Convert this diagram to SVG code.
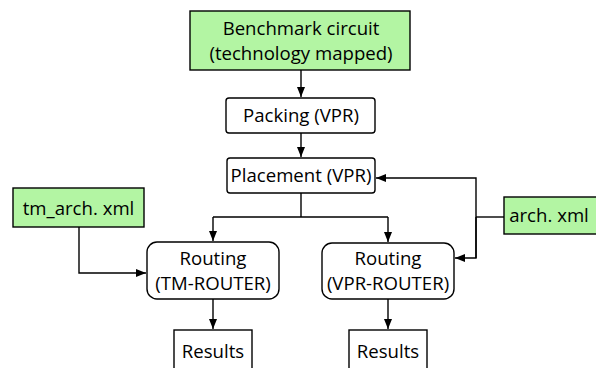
<svg xmlns="http://www.w3.org/2000/svg" width="596" height="368" viewBox="0 0 596 368">
<defs>
<marker id="ah" viewBox="0 0 10 8" refX="10" refY="4" markerWidth="10" markerHeight="8" markerUnits="userSpaceOnUse" orient="auto">
<path d="M0,0 L10,4 L0,8 Z" fill="#000"/>
</marker>
<style>
.box{fill:#fff;stroke:#000;stroke-width:1.4}
.in{fill:#b3f5a3;stroke:#000;stroke-width:1.4}
.t{font-family:"Open Sans","Liberation Sans",sans-serif;font-size:18.6px;fill:#000;text-anchor:middle}
.c{fill:none;stroke:#000;stroke-width:1.4}
</style>
</defs>
<rect width="596" height="368" fill="#fff"/>
<g id="connectors">
<path class="c" d="M301,70 V97" marker-end="url(#ah)"/>
<path class="c" d="M301,133 V157" marker-end="url(#ah)"/>
<path class="c" d="M301,193 V217 M213,217 H388"/>
<path class="c" d="M213,217 V241" marker-end="url(#ah)"/>
<path class="c" d="M388,217 V242" marker-end="url(#ah)"/>
<path class="c" d="M79,227 V273 H146" marker-end="url(#ah)"/>
<path class="c" d="M504,217 H476"/>
<path class="c" d="M476,258 V178 H376" marker-end="url(#ah)"/>
<path class="c" d="M476,217 V258 H455" marker-end="url(#ah)"/>
<path class="c" d="M213,299 V329" marker-end="url(#ah)"/>
<path class="c" d="M388,299 V329" marker-end="url(#ah)"/>
</g>
<g id="benchmark">
<rect class="in" x="190" y="11" width="220" height="59"/>
<text class="t" x="301" y="35">Benchmark circuit</text>
<text class="t" x="301" y="60">(technology mapped)</text>
</g>
<g id="packing">
<rect class="box" x="226" y="98" width="149" height="35" rx="3"/>
<text class="t" x="301" y="122">Packing (VPR)</text>
</g>
<g id="placement">
<rect class="box" x="227" y="158" width="148" height="35" rx="3"/>
<text class="t" x="301" y="182">Placement (VPR)</text>
</g>
<g id="tm_arch">
<rect class="in" x="13" y="188" width="131" height="39"/>
<text class="t" x="78.5" y="215">tm_arch. xml</text>
</g>
<g id="arch">
<rect class="in" x="504" y="197" width="96" height="37"/>
<text class="t" x="549" y="222">arch. xml</text>
</g>
<g id="routing_tm">
<rect class="box" x="147" y="242" width="132" height="57" rx="10"/>
<text class="t" x="213" y="265">Routing</text>
<text class="t" x="213" y="290">(TM-ROUTER)</text>
</g>
<g id="routing_vpr">
<rect class="box" x="322" y="243" width="132" height="56" rx="10"/>
<text class="t" x="388" y="265">Routing</text>
<text class="t" x="388" y="290">(VPR-ROUTER)</text>
</g>
<g id="results_tm">
<rect class="box" x="174" y="330" width="78" height="45"/>
<text class="t" x="213" y="358">Results</text>
</g>
<g id="results_vpr">
<rect class="box" x="349" y="330" width="78" height="45"/>
<text class="t" x="388" y="358">Results</text>
</g>
</svg>
